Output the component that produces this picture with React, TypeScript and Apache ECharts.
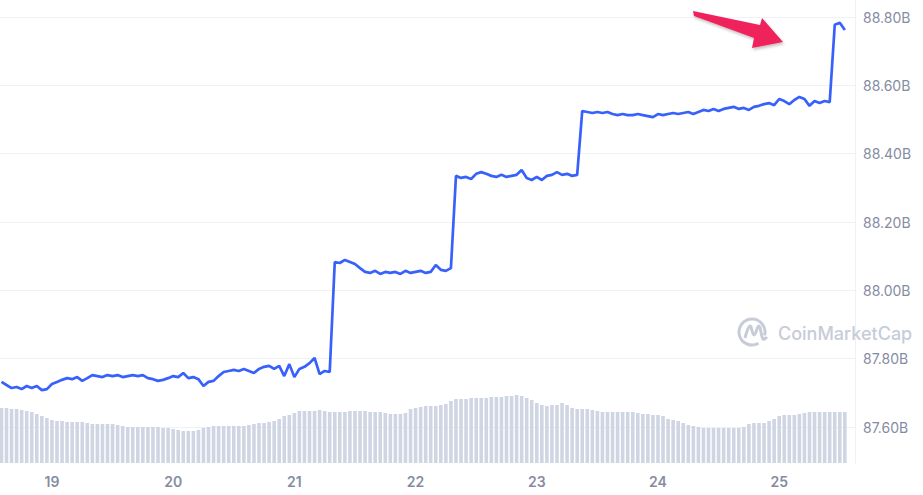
import React, { useEffect, useRef } from "react";
import * as echarts from "echarts";

// Hourly samples starting day 18, 14:00
const startDay = 18 + 14 / 24;
const stepDay = 1 / 24;

const marketCap: number[] = [
  87.732, 87.723, 87.714, 87.717, 87.711, 87.72, 87.714, 87.72, 87.708, 87.711,
  87.726, 87.732, 87.738, 87.743, 87.74, 87.746, 87.735, 87.743, 87.752, 87.749,
  87.746, 87.752, 87.749, 87.752, 87.746, 87.749, 87.752, 87.749, 87.752, 87.743,
  87.74, 87.735, 87.738, 87.743, 87.749, 87.746, 87.758, 87.743, 87.746, 87.74,
  87.72, 87.732, 87.735, 87.749, 87.761, 87.764, 87.767, 87.764, 87.77, 87.764,
  87.758, 87.77, 87.776, 87.779, 87.77, 87.779, 87.749, 87.784, 87.746, 87.77,
  87.776, 87.787, 87.802, 87.755, 87.764, 87.761, 88.083, 88.08, 88.089, 88.083,
  88.077, 88.065, 88.054, 88.051, 88.057, 88.048, 88.054, 88.051, 88.054, 88.048,
  88.057, 88.051, 88.054, 88.057, 88.051, 88.054, 88.074, 88.06, 88.057, 88.065,
  88.335, 88.329, 88.332, 88.326, 88.341, 88.346, 88.341, 88.335, 88.332, 88.338,
  88.332, 88.335, 88.338, 88.352, 88.329, 88.323, 88.332, 88.323, 88.335, 88.338,
  88.346, 88.338, 88.341, 88.335, 88.338, 88.525, 88.522, 88.519, 88.522, 88.519,
  88.522, 88.516, 88.513, 88.516, 88.513, 88.513, 88.516, 88.513, 88.51, 88.507,
  88.516, 88.513, 88.516, 88.519, 88.516, 88.519, 88.522, 88.516, 88.522, 88.528,
  88.525, 88.531, 88.525, 88.531, 88.534, 88.537, 88.531, 88.534, 88.528, 88.537,
  88.54, 88.545, 88.548, 88.542, 88.56, 88.554, 88.545, 88.557, 88.566, 88.56,
  88.54, 88.554, 88.548, 88.554, 88.551, 88.777, 88.783, 88.762,
];

const volume: number[] = [
  55, 55, 54, 54, 53, 52, 51, 49, 47, 45, 43, 42, 42, 41, 41, 41, 41, 40, 39, 39,
  39, 39, 39, 38, 37, 36, 36, 36, 36, 36, 36, 36, 35, 35, 34, 33, 32, 32, 32, 33,
  35, 36, 37, 37, 37, 37, 37, 37, 37, 38, 39, 40, 40, 41, 42, 44, 47, 48, 50, 52,
  52, 52, 52, 53, 52, 51, 51, 51, 51, 52, 52, 52, 52, 51, 51, 51, 50, 49, 49, 49,
  50, 54, 55, 56, 57, 57, 57, 58, 59, 62, 64, 64, 64, 65, 65, 65, 65, 66, 66, 66,
  67, 67, 68, 67, 65, 63, 60, 58, 57, 58, 58, 60, 58, 55, 54, 54, 54, 53, 52, 51,
  51, 51, 51, 51, 51, 51, 50, 49, 49, 48, 48, 47, 44, 43, 42, 40, 38, 37, 36, 35,
  35, 35, 35, 35, 35, 35, 35, 36, 39, 40, 40, 40, 42, 44, 47, 48, 48, 48, 49, 50,
  51, 51, 51, 51, 51, 51, 51, 51,
];

const dayTicks: number[] = [19, 20, 21, 22, 23, 24, 25];
const capTicks: number[] = [87.6, 87.8, 88.0, 88.2, 88.4, 88.6, 88.8];

const xMin = 18.5714;
const xMax = 25.6254;

export default function App() {
  const ref = useRef<HTMLDivElement>(null);
  useEffect(() => {
    if (!ref.current) return;
    const chart = echarts.init(ref.current, undefined, { renderer: "svg" });
    const lineData = marketCap.map((v, i) => [startDay + i * stepDay, v]);
    const barData = volume.map((v, i) => [startDay + i * stepDay, v]);
    const labelColor = "#858ca2";
    const wm = "#c7ccd8";
    chart.setOption({
      animation: false,
      backgroundColor: "#ffffff",
      grid: [
        { left: 0, right: 68, top: 17, height: 410 },
        { left: 0, right: 68, top: 0, height: 463 },
      ],
      xAxis: [
        { gridIndex: 0, type: "value", min: xMin, max: xMax, show: false },
        {
          gridIndex: 1,
          type: "value",
          min: xMin,
          max: xMax,
          axisLine: { show: false },
          axisTick: { show: false },
          splitLine: { show: false },
          axisLabel: {
            customValues: dayTicks,
            formatter: (v: number) => String(Math.round(v)),
            color: labelColor,
            fontSize: 14,
            fontWeight: 600,
            fontFamily: "Inter",
            margin: 11,
          },
        },
      ],
      yAxis: [
        {
          gridIndex: 0,
          type: "value",
          position: "right",
          min: capTicks[0],
          max: capTicks[capTicks.length - 1],
          interval: 0.2,
          axisLine: { show: false },
          axisTick: { show: false },
          splitLine: { lineStyle: { color: "#eff2f5", width: 1 } },
          axisLabel: {
            formatter: (v: number) => v.toFixed(2) + "B",
            color: labelColor,
            fontSize: 14,
            fontFamily: "Inter",
            margin: 8,
          },
        },
        {
          gridIndex: 1,
          type: "value",
          position: "right",
          min: 0,
          max: 463,
          axisLabel: { show: false },
          axisTick: { show: false },
          splitLine: { show: false },
          axisLine: { show: true, lineStyle: { color: "#eff2f5", width: 1 } },
        },
      ],
      series: [
        {
          type: "bar",
          xAxisIndex: 1,
          yAxisIndex: 1,
          data: barData,
          barWidth: 3.6,
          itemStyle: { color: "#cfd5e3" },
          silent: true,
        },
        {
          type: "line",
          xAxisIndex: 0,
          yAxisIndex: 0,
          data: lineData,
          showSymbol: false,
          lineStyle: { color: "#3861fb", width: 2.7 },
          z: 5,
        },
      ],
      graphic: [
        {
          type: "polygon",
          shape: {
            points: [
              [693, 11],
              [760, 25],
              [762, 18],
              [783, 42],
              [752, 48],
              [754, 38],
              [694, 16],
            ],
          },
          style: {
            fill: "#f0245c",
            shadowBlur: 3,
            shadowColor: "rgba(0,0,0,0.25)",
            shadowOffsetX: 1,
            shadowOffsetY: 2,
          },
          z: 100,
        },
        {
          type: "arc",
          shape: { cx: 752, cy: 332, r: 13, startAngle: 1.05, endAngle: 6.54, clockwise: true },
          style: { stroke: wm, lineWidth: 3, fill: "none" },
          z: 50,
        },
        {
          type: "polyline",
          shape: {
            points: [
              [745, 338],
              [750, 326],
              [754, 335],
              [759, 326],
              [763, 339],
              [767, 337],
            ],
            smooth: 0.4,
          },
          style: { stroke: wm, lineWidth: 3, fill: "none" },
          z: 50,
        },
        {
          type: "text",
          x: 778,
          y: 333,
          style: {
            text: "CoinMarketCap",
            fill: wm,
            fontSize: 18,
            fontWeight: 500,
            fontFamily: "Inter",
            verticalAlign: "middle",
            align: "left",
          },
          z: 50,
        },
      ],
    });
    return () => chart.dispose();
  }, []);
  return (
    <div
      ref={ref}
      style={{ position: "fixed", left: 0, top: 0, width: 923, height: 495, background: "#fff" }}
    />
  );
}
